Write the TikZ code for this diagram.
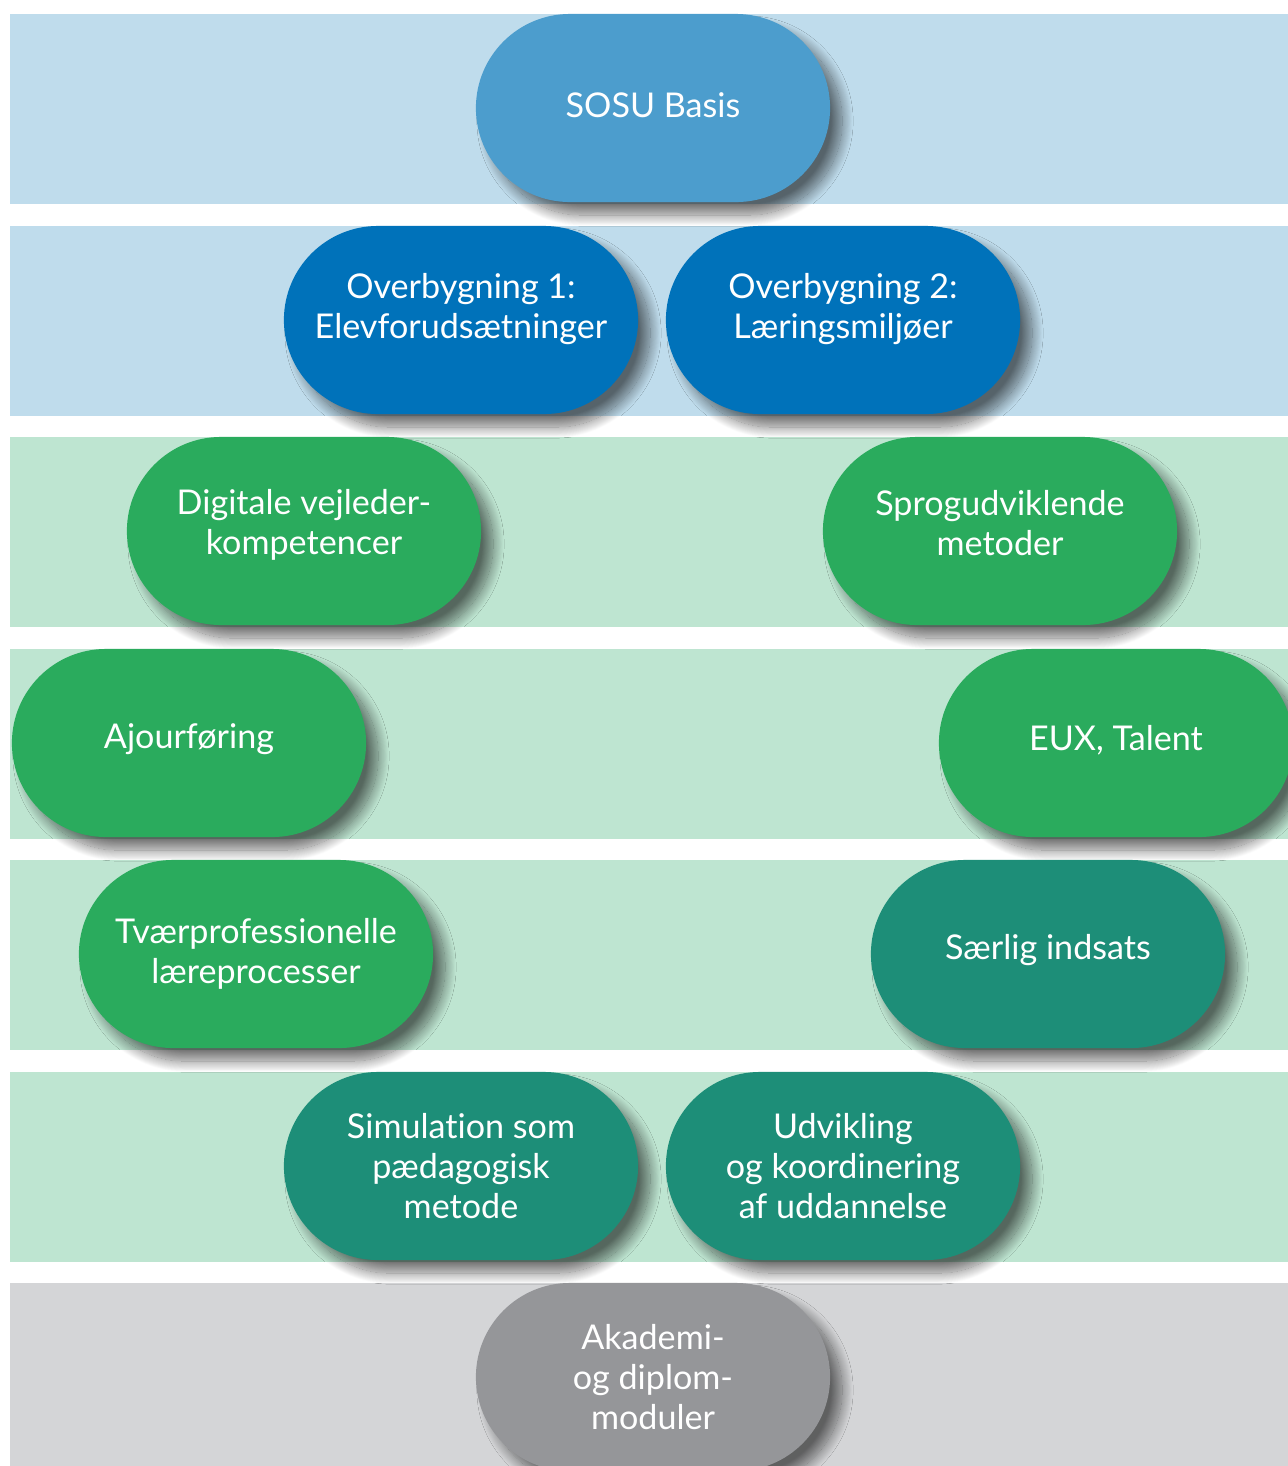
\documentclass[tikz,border=0pt]{standalone}
\usepackage{fontspec}
\setmainfont{Lato}[Ligatures=NoCommon]
\usetikzlibrary{positioning, shadows, shadows.blur}

\definecolor{bandblue}{HTML}{BFDCEC}
\definecolor{bandgreen}{HTML}{BEE5D1}
\definecolor{bandgray}{HTML}{D4D5D7}
\definecolor{basisblue}{HTML}{4C9DCD}
\definecolor{deepblue}{HTML}{0072BA}
\definecolor{leafgreen}{HTML}{2AAB5D}
\definecolor{tealgreen}{HTML}{1D8E78}
\definecolor{pillgray}{HTML}{959699}

\begin{document}
\begin{tikzpicture}[
			x=0.01cm, y=-0.01cm,
			band/.style={fill=#1, draw=none, anchor=north west, inner sep=0pt, minimum width=12.79cm, minimum height=1.9cm},
			pill/.style={fill=#1, draw=none, rounded corners=0.94cm, minimum width=3.54cm, minimum height=1.88cm, inner sep=0pt, align=center, text=white, font=\fontsize{9.7}{11.4}\selectfont,
				blur shadow={shadow xshift=1.2mm, shadow yshift=-1.3mm, shadow blur radius=1.1mm, shadow blur steps=24, shadow opacity=55}},
			lift/.style={text depth=#1}
			]
			\useasboundingbox (0,0) rectangle (1288,1466);
			
			% Bands
			\node (row1) [band=bandblue] at (9,13) {};
			\node (row2) [band=bandblue] at (9,225) {};
			\node (row3) [band=bandgreen] at (9,436) {};
			\node (row4) [band=bandgreen] at (9,648) {};
			\node (row5) [band=bandgreen] at (9,859) {};
			\node (row6) [band=bandgreen] at (9,1071) {};
			\node (row7) [band=bandgray] at (9,1282) {};
			
			% Pills
			\node (sosu) [pill=basisblue, lift=1.7pt] at (653,108) {SOSU Basis};
			\node (ovb1) [pill=deepblue, lift=8.2pt] at (461,320) {Overbygning 1:\\Elevforudsætninger};
			\node (ovb2) [pill=deepblue, lift=8.2pt] at (843,320) {Overbygning 2:\\Læringsmiljøer};
			\node (digital) [pill=leafgreen, lift=5.4pt] at (304,531) {Digitale vejleder-\\kompetencer};
			\node (sprog) [pill=leafgreen, lift=4.6pt] at (1000,531) {Sprogudviklende\\metoder};
			\node (ajour) [pill=leafgreen, lift=3.7pt] at (189,743) {Ajourføring};
			\node (eux) [pill=leafgreen, lift=2.7pt] at (1116,743) {EUX, Talent};
			\node (tvaer) [pill=leafgreen] at (256,954) {Tværprofessionelle\\læreprocesser};
			\node (saerlig) [pill=tealgreen, lift=4.2pt] at (1048,954) {Særlig indsats};
			\node (simul) [pill=tealgreen] at (461,1166) {Simulation som\\pædagogisk\\metode};
			\node (udvikl) [pill=tealgreen] at (843,1166) {Udvikling\\og koordinering\\af uddannelse};
			\node (akademi) [pill=pillgray] at (653,1377) {Akademi-\\og diplom-\\moduler};
			
		\end{tikzpicture}
\end{document}
